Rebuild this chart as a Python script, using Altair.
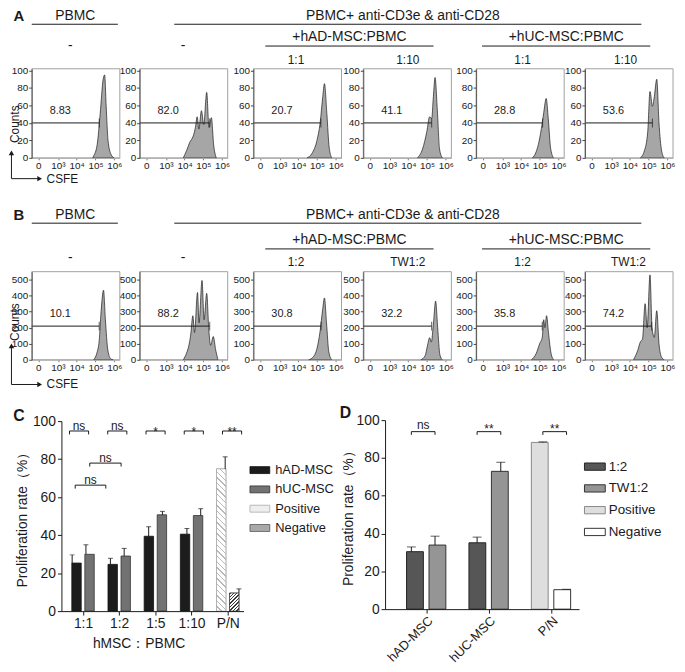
import altair as alt
import pandas as pd

FONT = "Liberation Sans"
W, H = 676, 656

# ---------------- histogram data (x: log10 CSFE intensity, y: counts) ----------------
a1_x = [4.85, 4.90, 5.09, 5.25, 5.41, 5.49, 5.57, 5.67, 5.83, 5.99]
a1_y = [0, 2, 15, 50, 90, 95, 60, 20, 4, 0]
a2_x = [3.93, 4.10, 4.28, 4.46, 4.58, 4.67, 4.76, 4.90, 5.02, 5.18, 5.30, 5.43, 5.55, 5.69]
a2_y = [0, 8, 18, 25, 35, 47, 33, 54, 38, 75, 35, 46, 15, 0]
a3_x = [4.46, 4.72, 4.99, 5.16, 5.30, 5.39, 5.52, 5.64, 5.78]
a3_y = [0, 5, 20, 40, 70, 85, 50, 12, 0]
a4_x = [4.49, 4.76, 4.99, 5.14, 5.25, 5.34, 5.43, 5.55, 5.67, 5.82]
a4_y = [0, 10, 30, 47, 45, 70, 92, 55, 10, 0]
a5_x = [4.60, 4.72, 4.95, 5.13, 5.21, 5.34, 5.45, 5.57, 5.73]
a5_y = [0, 3, 18, 40, 52, 68, 45, 12, 0]
a6_x = [4.55, 4.77, 4.95, 5.07, 5.20, 5.30, 5.43, 5.55, 5.69, 5.83]
a6_y = [0, 8, 30, 76, 59, 70, 90, 40, 8, 0]

b1_x = [4.90, 5.07, 5.20, 5.30, 5.43, 5.53, 5.66, 5.82, 5.94]
b1_y = [0, 40, 120, 300, 434, 250, 60, 5, 0]
b2_x = [3.93, 4.10, 4.23, 4.33, 4.44, 4.53, 4.69, 4.77, 4.93, 5.04, 5.18, 5.29, 5.39, 5.53, 5.66, 5.78]
b2_y = [0, 40, 90, 160, 275, 170, 420, 230, 495, 250, 415, 190, 90, 145, 60, 0]
b3_x = [4.55, 4.77, 4.99, 5.16, 5.29, 5.39, 5.50, 5.62, 5.78]
b3_y = [0, 15, 70, 180, 310, 386, 230, 50, 0]
b4_x = [4.67, 4.90, 5.02, 5.14, 5.23, 5.34, 5.46, 5.57, 5.69, 5.82]
b4_y = [0, 25, 85, 138, 110, 220, 366, 200, 30, 0]
b5_x = [4.55, 4.81, 4.99, 5.13, 5.21, 5.27, 5.36, 5.46, 5.60, 5.74]
b5_y = [0, 40, 100, 140, 250, 200, 275, 170, 40, 0]
b6_x = [4.19, 4.42, 4.55, 4.67, 4.81, 4.92, 5.07, 5.18, 5.30, 5.43, 5.55, 5.69, 5.83]
b6_y = [0, 60, 110, 130, 350, 200, 530, 200, 140, 306, 100, 15, 0]

a_pct = ["8.83", "82.0", "20.7", "41.1", "28.8", "53.6"]
b_pct = ["10.1", "88.2", "30.8", "32.2", "35.8", "74.2"]
a_gate_end = [5.20, 5.34, 5.20, 5.25, 5.15, 5.20]
b_gate_end = [5.20, 5.34, 5.21, 5.25, 5.13, 5.16]
a_count_ticks = [0, 20, 40, 60, 80, 100]
b_count_ticks = [0, 100, 200, 300, 400, 500]
csfe_tick_vals = [1.95, 3, 4, 5, 6]
csfe_tick_text = ["0", "10³", "10⁴", "10⁵", "10⁶"]

# ---------------- panel C data ----------------
c_groups = ["1:1", "1:2", "1:5", "1:10", "P/N"]
c_series = ["hAD-MSC", "hUC-MSC", "Positive", "Negative"]
c_had = [25.3, 24.6, 39.4, 40.5]
c_had_err = [4.3, 3.2, 5.0, 3.0]
c_huc = [29.9, 29.0, 50.7, 50.3]
c_huc_err = [5.0, 4.0, 1.8, 3.6]
c_pos, c_pos_err = 74.9, 6.3
c_neg, c_neg_err = 9.5, 2.2
c_sig = ["ns", "ns", "*", "*", "**"]
c_cross_sig = ["ns", "ns"]

# ---------------- panel D data ----------------
d_groups = ["hAD-MSC", "hUC-MSC", "P/N"]
d_series = ["1:2", "TW1:2", "Positive", "Negative"]
d_12 = [30.4, 35.1]
d_12_err = [2.5, 3.0]
d_tw = [33.9, 72.9]
d_tw_err = [4.7, 4.8]
d_pos, d_pos_err = 88.2, 0.3
d_neg, d_neg_err = 10.3, 0.2
d_sig = ["ns", "**", "**"]

# ---------------- layout / style ----------------
XD = [1.6, 6.3]
PW = 89
LEFTS = [24, 133, 248, 359, 473, 583]
ROW_A = dict(top=58, bottom=148, ymax=102, gate_y=40, text_y=54)
ROW_B = dict(top=263, bottom=352, ymax=550, gate_y=210, text_y=287)
TEXT_U = 3.12
INK = "#1a1a1a"
dummy = pd.DataFrame({"k": [0]})


def csfe_expr():
    expr = f"'{csfe_tick_text[-1]}'"
    for v, t in reversed(list(zip(csfe_tick_vals[:-1], csfe_tick_text[:-1]))):
        expr = f"datum.value < {v + 0.3} ? '{t}' : ({expr})"
    return expr


CSFE_EXPR = csfe_expr()


def hist_panel(xs, ys, pct, gate_end, left, row, yticks):
    sx = alt.Scale(domain=XD, range=[left, left + PW], nice=False, zero=False)
    sy = alt.Scale(domain=[0, row["ymax"]], range=[row["bottom"], row["top"]], nice=False, zero=False)
    ax = alt.Axis(orient="bottom", values=csfe_tick_vals, labelExpr=CSFE_EXPR, title=None, grid=False,
                  offset=row["bottom"] - H, labelFont=FONT, labelFontSize=10, labelColor=INK,
                  labelPadding=1, tickSize=2, tickColor="#777", domainColor="#aaa", zindex=2,
                  labelFlush=False, labelOverlap=False, labelBound=False)
    ay = alt.Axis(orient="left", values=yticks, title=None, grid=False, offset=-left, labelFont=FONT,
                  labelFontSize=10, labelColor=INK, labelPadding=1, tickSize=3, zindex=2,
                  tickColor="#444", domainColor="#555", labelFlush=False, labelOverlap=False)
    frame = alt.Chart(pd.DataFrame({"x0": [XD[0]], "x1": [XD[1]], "y0": [0], "y1": [row["ymax"]]})).mark_rect(
        fillOpacity=0, stroke="#a0a0a0", strokeWidth=1).encode(
        x=alt.X("x0:Q", scale=sx, axis=None), x2="x1:Q",
        y=alt.Y("y0:Q", scale=sy, axis=None), y2="y1:Q")
    hist = alt.Chart(pd.DataFrame({"u": xs, "n": ys})).mark_area(
        interpolate="monotone", fill="#a6a6a6", stroke=INK, strokeWidth=0.7).encode(
        x=alt.X("u:Q", scale=sx, axis=ax), y=alt.Y("n:Q", scale=sy, axis=ay))
    g = pd.DataFrame({"x0": [XD[0]], "x1": [gate_end], "y": [row["gate_y"]], "t": [pct],
                      "tx": [TEXT_U], "ty": [row["text_y"]]})
    rule = alt.Chart(g).mark_rule(color=INK, strokeWidth=1).encode(
        x=alt.X("x0:Q", scale=sx, axis=None), x2="x1:Q", y=alt.Y("y:Q", scale=sy, axis=None))
    tick = alt.Chart(g).mark_tick(orient="vertical", size=9, thickness=1, color=INK).encode(
        x=alt.X("x1:Q", scale=sx, axis=None), y=alt.Y("y:Q", scale=sy, axis=None))
    label = alt.Chart(g).mark_text(font=FONT, fontSize=11, color=INK, baseline="middle").encode(
        x=alt.X("tx:Q", scale=sx, axis=None), y=alt.Y("ty:Q", scale=sy, axis=None), text="t:N")
    return [frame, hist, rule, tick, label]


def txt(s, x, y, size, weight="normal", align="center", baseline="alphabetic", angle=0):
    return alt.Chart(dummy).mark_text(text=s, font=FONT, fontSize=size, fontWeight=weight, align=align,
                                      baseline=baseline, angle=angle, color=INK).encode(
        x=alt.value(x), y=alt.value(y))


def hline(x1, x2, y, color=INK, w=1.0):
    return alt.Chart(dummy).mark_rule(color=color, strokeWidth=w).encode(
        x=alt.value(x1), x2=alt.value(x2), y=alt.value(y))


def vline(x, y1, y2, color=INK, w=1.0):
    return alt.Chart(dummy).mark_rule(color=color, strokeWidth=w).encode(
        x=alt.value(x), y=alt.value(y1), y2=alt.value(y2))


def head(x, y, shape):
    return alt.Chart(dummy).mark_point(shape=shape, filled=True, size=30, color=INK, opacity=1).encode(
        x=alt.value(x), y=alt.value(y))


def hatch(w, h, spacing, lw, line_color, back, slash=True):
    a = w / h
    s = (a + 1) / (a * a + 1)
    diag = (w + h) / 2 ** 0.5
    n = max(1, round(diag / spacing))
    f = lw / diag
    stops = []
    for k in range(n):
        o = k / n
        e = min(o + f, 1.0)
        stops += [{"offset": o, "color": line_color}, {"offset": e, "color": line_color},
                  {"offset": e, "color": back}, {"offset": (k + 1) / n, "color": back}]
    if slash:
        geo = dict(x1=0, y1=0, x2=s * a, y2=s)
    else:
        geo = dict(x1=1, y1=0, x2=1 - s * a, y2=s)
    return {"gradient": "linear", "stops": stops, **geo}


RECT_SYMBOL = "M-1,-0.35L1,-0.35L1,0.35L-1,0.35Z"


def sig_layers(df, sx, sy):
    base = alt.Chart(df)
    hx = base.mark_rule(color=INK, strokeWidth=1).encode(
        x=alt.X("x1:Q", scale=sx, axis=None), x2="x2:Q", y=alt.Y("y:Q", scale=sy, axis=None))
    lt = base.mark_rule(color=INK, strokeWidth=1).encode(
        x=alt.X("x1:Q", scale=sx, axis=None), y=alt.Y("y:Q", scale=sy, axis=None), y2="ylo:Q")
    rt = base.mark_rule(color=INK, strokeWidth=1).encode(
        x=alt.X("x2:Q", scale=sx, axis=None), y=alt.Y("y:Q", scale=sy, axis=None), y2="ylo:Q")
    tx = base.mark_text(font=FONT, fontSize=12, color=INK, baseline="middle").encode(
        x=alt.X("xm:Q", scale=sx, axis=None), y=alt.Y("ty:Q", scale=sy, axis=None), text="label:N")
    return [hx, lt, rt, tx]


# ---------------- histogram panels ----------------
layers = []
a_sets = [(a1_x, a1_y), (a2_x, a2_y), (a3_x, a3_y), (a4_x, a4_y), (a5_x, a5_y), (a6_x, a6_y)]
b_sets = [(b1_x, b1_y), (b2_x, b2_y), (b3_x, b3_y), (b4_x, b4_y), (b5_x, b5_y), (b6_x, b6_y)]
for i, (xs, ys) in enumerate(a_sets):
    layers += hist_panel(xs, ys, a_pct[i], a_gate_end[i], LEFTS[i], ROW_A, a_count_ticks)
for i, (xs, ys) in enumerate(b_sets):
    layers += hist_panel(xs, ys, b_pct[i], b_gate_end[i], LEFTS[i], ROW_B, b_count_ticks)

# ---------------- panel C ----------------
C_X0, C_X1, C_Y0, C_Y1 = 54, 238, 606, 414
c_ppu = (C_Y0 - C_Y1) / 100
c_sx = alt.Scale(domain=[-0.46, 4.3], range=[C_X0, C_X1], nice=False, zero=False)
c_sy = alt.Scale(domain=[0, 100], range=[C_Y0, C_Y1], nice=False, zero=False)
OFF = 0.18
c_rows = []
for i in range(4):
    c_rows.append(dict(pos=i - OFF, series="hAD-MSC", val=c_had[i], top=c_had[i] + c_had_err[i]))
    c_rows.append(dict(pos=i + OFF, series="hUC-MSC", val=c_huc[i], top=c_huc[i] + c_huc_err[i]))
c_rows.append(dict(pos=4 - OFF, series="Positive", val=c_pos, top=c_pos + c_pos_err))
c_rows.append(dict(pos=4 + OFF, series="Negative", val=c_neg, top=c_neg + c_neg_err))
c_df = pd.DataFrame(c_rows)

c_xlab = "[" + ",".join(f"'{g}'" for g in c_groups) + "][datum.value]"
c_xaxis = alt.Axis(orient="bottom", values=list(range(len(c_groups))), labelExpr=c_xlab, title="hMSC：PBMC",
                   offset=C_Y0 - H, grid=False, labelFont=FONT, labelFontSize=14, labelColor=INK,
                   titleFont=FONT, titleFontSize=14, titleFontWeight="normal", titleColor=INK,
                   titlePadding=6, titleX=132, tickSize=4, labelPadding=2, tickColor=INK, zindex=2,
                   domainColor=INK, labelFlush=False, labelOverlap=False)
c_yaxis = alt.Axis(orient="left", values=[0, 20, 40, 60, 80, 100], title="Proliferation rate（%）", offset=-C_X0,
                   grid=False, labelFont=FONT, labelFontSize=14, labelColor=INK, titleFont=FONT,
                   titleFontSize=14, titleFontWeight="normal", titleColor=INK, titlePadding=3,
                   tickSize=4, labelPadding=2, tickColor=INK, domainColor=INK, zindex=2)
c_bars = alt.Chart(c_df).mark_bar(size=9.5, strokeWidth=0.8).encode(
    x=alt.X("pos:Q", scale=c_sx, axis=c_xaxis),
    y=alt.Y("val:Q", scale=c_sy, axis=c_yaxis),
    color=alt.Color("series:N", scale=alt.Scale(domain=c_series,
                                                  range=["#1c1c1c", "#727272", "#eeeeee", "#a9a9a9"]),
                    legend=alt.Legend(title=None, orient="none", legendX=244, legendY=453,
                                      direction="vertical", symbolType=RECT_SYMBOL, symbolSize=400,
                                      symbolStrokeColor="#333", symbolStrokeWidth=0.8,
                                      labelFont=FONT, labelFontSize=13, labelColor=INK, labelOffset=5,
                                      rowPadding=1.5, padding=0, symbolOpacity=1)),
    stroke=alt.Stroke("series:N", scale=alt.Scale(domain=c_series,
                                                    range=["#111111", "#333333", "#aaaaaa", "#555555"]),
                      legend=None))
pos_fill = hatch(9.5, c_pos * c_ppu, 4.0, 1.0, "#b9b9b9", "#ffffff", slash=False)
neg_fill = hatch(9.5, c_neg * c_ppu, 2.6, 1.0, "#3a3a3a", "#ffffff", slash=True)
c_pos_bar = alt.Chart(c_df).transform_filter(alt.datum.series == "Positive").mark_bar(
    size=9.5, fill=pos_fill, stroke="#aaaaaa", strokeWidth=0.8).encode(
    x=alt.X("pos:Q", scale=c_sx, axis=None), y=alt.Y("val:Q", scale=c_sy, axis=None))
c_neg_bar = alt.Chart(c_df).transform_filter(alt.datum.series == "Negative").mark_bar(
    size=9.5, fill=neg_fill, stroke="#444444", strokeWidth=0.8).encode(
    x=alt.X("pos:Q", scale=c_sx, axis=None), y=alt.Y("val:Q", scale=c_sy, axis=None))
c_err = alt.Chart(c_df).mark_rule(color=INK, strokeWidth=1).encode(
    x=alt.X("pos:Q", scale=c_sx, axis=None), y=alt.Y("val:Q", scale=c_sy, axis=None), y2="top:Q")
c_cap = alt.Chart(c_df).mark_tick(orient="horizontal", size=5, thickness=1, color=INK).encode(
    x=alt.X("pos:Q", scale=c_sx, axis=None), y=alt.Y("top:Q", scale=c_sy, axis=None))

c_sig_rows = []
for i, lab in enumerate(c_sig):
    dpx = 5 if lab == "ns" else -0.9
    c_sig_rows.append(dict(x1=i - 0.25, x2=i + 0.25, xm=i, y=94.8, ylo=93.0, ty=94.8 + dpx / c_ppu, label=lab))
cross_geo = [(-0.1, 0.7, 66.3), (0.28, 1.1, 77.9)]
for (x1, x2, yy), lab in zip(cross_geo, c_cross_sig):
    c_sig_rows.append(dict(x1=x1, x2=x2, xm=(x1 + x2) / 2, y=yy, ylo=yy - 1.8, ty=yy + 5 / c_ppu, label=lab))
c_sig_df = pd.DataFrame(c_sig_rows)

layers += [c_bars, c_pos_bar, c_neg_bar, c_err, c_cap] + sig_layers(c_sig_df, c_sx, c_sy)

# ---------------- panel D ----------------
D_X0, D_X1, D_Y0, D_Y1 = 381, 577, 604, 413
d_ppu = (D_Y0 - D_Y1) / 100
d_sx = alt.Scale(domain=[-0.58, 2.37], range=[D_X0, D_X1], nice=False, zero=False)
d_sy = alt.Scale(domain=[0, 100], range=[D_Y0, D_Y1], nice=False, zero=False)
d_rows = []
for i in range(2):
    d_rows.append(dict(pos=i - OFF, series="1:2", val=d_12[i], top=d_12[i] + d_12_err[i]))
    d_rows.append(dict(pos=i + OFF, series="TW1:2", val=d_tw[i], top=d_tw[i] + d_tw_err[i]))
d_rows.append(dict(pos=2 - OFF, series="Positive", val=d_pos, top=d_pos + d_pos_err))
d_rows.append(dict(pos=2 + OFF, series="Negative", val=d_neg, top=d_neg + d_neg_err))
d_df = pd.DataFrame(d_rows)

d_xlab = "[" + ",".join(f"'{g}'" for g in d_groups) + "][datum.value]"
d_xaxis = alt.Axis(orient="bottom", values=list(range(len(d_groups))), labelExpr=d_xlab, title=None,
                   offset=D_Y0 - H, grid=False, labelFont=FONT, labelFontSize=13, labelColor=INK,
                   labelAngle=-45, tickSize=4, labelPadding=1, tickColor=INK, domainColor=INK, zindex=2,
                   labelFlush=False, labelOverlap=False, labelBound=False)
d_yaxis = alt.Axis(orient="left", values=[0, 20, 40, 60, 80, 100], title="Proliferation rate（%）", offset=-D_X0,
                   grid=False, labelFont=FONT, labelFontSize=14, labelColor=INK, titleFont=FONT,
                   titleFontSize=14, titleFontWeight="normal", titleColor=INK, titlePadding=1,
                   tickSize=4, labelPadding=2, tickColor=INK, domainColor=INK, zindex=2)
d_bars = alt.Chart(d_df).mark_bar(size=17, strokeWidth=1).encode(
    x=alt.X("pos:Q", scale=d_sx, axis=d_xaxis),
    y=alt.Y("val:Q", scale=d_sy, axis=d_yaxis),
    color=alt.Color("series:N", scale=alt.Scale(domain=d_series,
                                                  range=["#565656", "#959595", "#dedede", "#ffffff"]),
                    legend=alt.Legend(title=None, orient="none", legendX=582, legendY=449,
                                      direction="vertical", symbolType=RECT_SYMBOL, symbolSize=441,
                                      symbolStrokeColor="#222", symbolStrokeWidth=1,
                                      labelFont=FONT, labelFontSize=13.5, labelColor=INK, labelOffset=3,
                                      rowPadding=4, padding=0, symbolOpacity=1)),
    stroke=alt.Stroke("series:N", scale=alt.Scale(domain=d_series,
                                                    range=["#222222", "#333333", "#888888", "#333333"]),
                      legend=None))
d_err = alt.Chart(d_df).mark_rule(color=INK, strokeWidth=1).encode(
    x=alt.X("pos:Q", scale=d_sx, axis=None), y=alt.Y("val:Q", scale=d_sy, axis=None), y2="top:Q")
d_cap = alt.Chart(d_df).mark_tick(orient="horizontal", size=9, thickness=1, color=INK).encode(
    x=alt.X("pos:Q", scale=d_sx, axis=None), y=alt.Y("top:Q", scale=d_sy, axis=None))
d_sig_rows = []
for i, lab in enumerate(d_sig):
    dpx = 6.3 if lab == "ns" else 2.3
    d_sig_rows.append(dict(x1=i - 0.18, x2=i + 0.18, xm=i, y=93.9, ylo=92.2, ty=93.9 + dpx / d_ppu, label=lab))
d_sig_df = pd.DataFrame(d_sig_rows)
layers += [d_bars, d_err, d_cap] + sig_layers(d_sig_df, d_sx, d_sy)

# ---------------- annotations ----------------
ann = []


def header_row(y0, letter):
    return [txt(letter, 11, y0 + 1, 15, weight="bold"),
            txt("PBMC", 68, y0, 14), hline(24, 111, y0 + 4),
            txt("PBMC+ anti-CD3e & anti-CD28", 399, y0, 14), hline(168, 640, y0 + 4)]


ann += header_row(9, "A")
ann += [txt("-", 63, 35, 14, baseline="middle"), txt("-", 177, 35, 14, baseline="middle")]
ann += [txt("+hAD-MSC:PBMC", 345, 26, 14, baseline="middle"), hline(260, 430, 35),
        txt("+hUC-MSC:PBMC", 564, 26, 14, baseline="middle"), hline(479, 649, 35)]
ann += [txt("1:1", 291, 49, 12, baseline="middle"), txt("1:10", 404, 49, 12, baseline="middle"),
        txt("1:1", 520, 49, 12, baseline="middle"), txt("1:10", 624, 49, 12, baseline="middle")]

ann += header_row(210, "B")
ann += [txt("-", 63, 249, 14, baseline="middle"), txt("-", 177, 249, 14, baseline="middle")]
ann += [txt("+hAD-MSC:PBMC", 345, 231, 14, baseline="middle"), hline(260, 430, 240),
        txt("+hUC-MSC:PBMC", 564, 231, 14, baseline="middle"), hline(479, 649, 240)]
ann += [txt("1:2", 291, 253, 12, baseline="middle"), txt("TW1:2", 404, 253, 12, baseline="middle"),
        txt("1:2", 520, 253, 12, baseline="middle"), txt("TW1:2", 627, 253, 12, baseline="middle")]

for (ytip, ybase, ycount) in [(140, 169, 114), (335, 377, 314)]:
    ann += [vline(3.5, ytip + 3, ybase), hline(3.5, 31, ybase),
            head(3.5, ytip + 3, "triangle-up"), head(32, ybase, "triangle-right"),
            txt("CSFE", 39, ybase, 12, align="left", baseline="middle"),
            txt("Counts", 7, ycount, 12, baseline="middle", angle=270)]

ann += [txt("C", 11, 409, 16, weight="bold", baseline="middle"),
        txt("D", 341, 406, 16, weight="bold", baseline="middle")]

layers += ann

chart = alt.layer(*layers).resolve_scale(
    x="independent", y="independent", color="independent", stroke="independent"
).properties(width=W, height=H, autosize="none", padding=0).configure(font=FONT).configure_view(stroke=None)

chart.save("out.html", embed_options={"renderer": "svg", "actions": False})
